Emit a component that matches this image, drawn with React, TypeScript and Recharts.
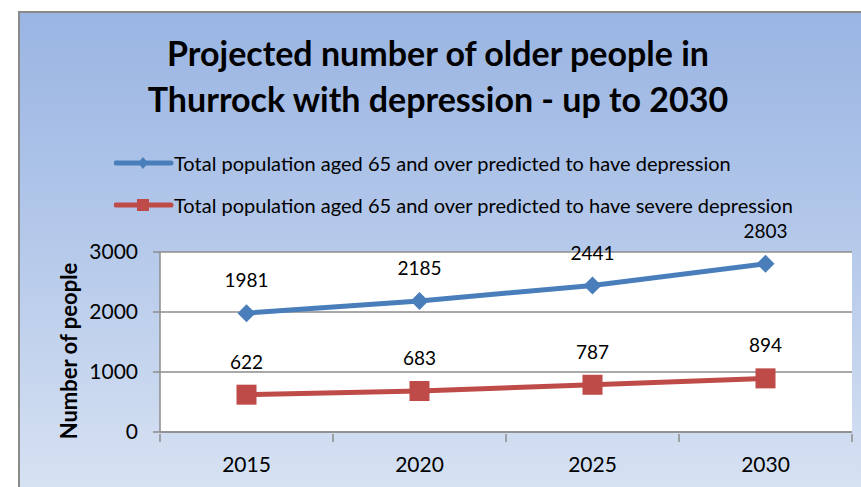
import { CartesianGrid, LabelList, Line, LineChart, XAxis, YAxis } from "recharts";

const years = ["2015", "2020", "2025", "2030"];
const depression = [1981, 2185, 2441, 2803];
const severeDepression = [622, 683, 787, 894];
const yTicks = [0, 1000, 2000, 3000];

const titleLines = ["Projected number of older people in", "Thurrock with depression - up to 2030"];
const seriesNames = [
  "Total population aged 65 and over predicted to have depression",
  "Total population aged 65 and over predicted to have severe depression",
];

const BLUE = "#4a7ebb";
const RED = "#be4b48";
const GRID = "#8c8c8c";
const FONT = "Lato, 'Open Sans', sans-serif";

const CHART_W = 861;
const CHART_H = 487;
const MARGIN = { top: 252, right: 9, left: 0, bottom: 0 };
const Y_AXIS_W = 160;
const X_AXIS_H = 55;

const data = years.map((year, i) => ({
  year,
  depression: depression[i],
  severe: severeDepression[i],
}));

function Diamond(props: any) {
  const { cx, cy } = props;
  if (cx == null || cy == null) return null;
  const r = 9;
  return (
    <path
      d={`M${cx},${cy - r}L${cx + r},${cy}L${cx},${cy + r}L${cx - r},${cy}Z`}
      fill={BLUE}
    />
  );
}

function Square(props: any) {
  const { cx, cy } = props;
  if (cx == null || cy == null) return null;
  return <rect x={cx - 10} y={cy - 10} width={20} height={20} fill={RED} />;
}

// category label at band centre, tick marks at band edges (Excel style)
function YearTick(props: any) {
  const { x, y, payload, index } = props;
  const plotW = CHART_W - MARGIN.left - MARGIN.right - Y_AXIS_W;
  const half = plotW / years.length / 2;
  const axisY = y - 8;
  return (
    <g>
      <line x1={x - half} y1={axisY} x2={x - half} y2={axisY + 8} stroke={GRID} strokeWidth={1.5} />
      {index === years.length - 1 && (
        <line x1={x + half} y1={axisY} x2={x + half} y2={axisY + 8} stroke={GRID} strokeWidth={1.5} />
      )}
      <text x={x} y={axisY + 38} textAnchor="middle" fontFamily={FONT} fontSize={21} fill="#000">
        {payload.value}
      </text>
    </g>
  );
}

function YLabel(props: any) {
  const { viewBox } = props;
  const x = 68;
  const y = viewBox.y + viewBox.height / 2 + 9;
  return (
    <text
      x={x}
      y={y}
      transform={`rotate(-90, ${x}, ${y})`}
      textAnchor="middle"
      dominantBaseline="central"
      fontFamily={FONT}
      fontWeight={700}
      fontSize={22}
      fill="#000"
    >
      Number of people
    </text>
  );
}

function LegendRow({ color, square, label, top }: { color: string; square: boolean; label: string; top: number }) {
  return (
    <div style={{ position: "absolute", left: 114, top, display: "flex", alignItems: "center", height: 24 }}>
      <svg width={60} height={24} style={{ display: "block" }}>
        <line x1={2} y1={12} x2={57} y2={12} stroke={color} strokeWidth={5} strokeLinecap="round" />
        {square ? (
          <rect x={23} y={6} width={12} height={12} fill={color} />
        ) : (
          <path d="M29,6L34,12L29,18L24,12Z" fill={color} />
        )}
      </svg>
      <span style={{ fontFamily: FONT, fontSize: 20, color: "#000", whiteSpace: "nowrap", marginLeft: 0 }}>{label}</span>
    </div>
  );
}

export default function App() {
  return (
    <div style={{ position: "absolute", left: 0, top: 0, width: CHART_W, height: CHART_H, background: "#fff", overflow: "hidden" }}>
      <div
        style={{
          position: "absolute",
          left: 18,
          top: 11,
          width: 900,
          height: 520,
          borderLeft: "2px solid #8a8a8a",
          borderTop: "2px solid #8a8a8a",
          background: "linear-gradient(to bottom, #9ab5e3 0%, #b5c9ea 45%, #dde6f4 100%)",
        }}
      />
      <div
        style={{
          position: "absolute",
          left: 20,
          top: 30,
          width: 836,
          textAlign: "center",
          fontFamily: FONT,
          fontWeight: 700,
          fontSize: 34,
          lineHeight: "46px",
          color: "#000",
        }}
      >
        {titleLines.map((t) => (
          <div key={t}>{t}</div>
        ))}
      </div>
      <LegendRow color={BLUE} square={false} label={seriesNames[0]} top={151} />
      <LegendRow color={RED} square={true} label={seriesNames[1]} top={193} />
      <div style={{ position: "absolute", left: 0, top: 0 }}>
        <LineChart width={CHART_W} height={CHART_H} data={data} margin={MARGIN}>
          <CartesianGrid vertical={false} fill="#ffffff" stroke={GRID} strokeWidth={1.5} />
          <XAxis
            dataKey="year"
            scale="band"
            height={X_AXIS_H}
            axisLine={{ stroke: GRID, strokeWidth: 1.5 }}
            tickLine={false}
            tickSize={8}
            interval={0}
            tick={<YearTick />}
          />
          <YAxis
            width={Y_AXIS_W}
            domain={[0, 3000]}
            ticks={yTicks}
            interval={0}
            axisLine={{ stroke: GRID, strokeWidth: 1.5 }}
            tickLine={{ stroke: GRID, strokeWidth: 1.5 }}
            tickSize={7}
            tickMargin={15}
            tick={{ fontFamily: FONT, fontSize: 21, fill: "#000" }}
            label={<YLabel />}
          />
          <Line
            dataKey="depression"
            stroke={BLUE}
            strokeWidth={5}
            dot={<Diamond />}
            activeDot={false}
            isAnimationActive={false}
          >
            <LabelList dataKey="depression" position="top" offset={26} fontFamily={FONT} fontSize={19} fill="#000" />
          </Line>
          <Line
            dataKey="severe"
            stroke={RED}
            strokeWidth={5}
            dot={<Square />}
            activeDot={false}
            isAnimationActive={false}
          >
            <LabelList dataKey="severe" position="top" offset={26} fontFamily={FONT} fontSize={19} fill="#000" />
          </Line>
        </LineChart>
      </div>
    </div>
  );
}
